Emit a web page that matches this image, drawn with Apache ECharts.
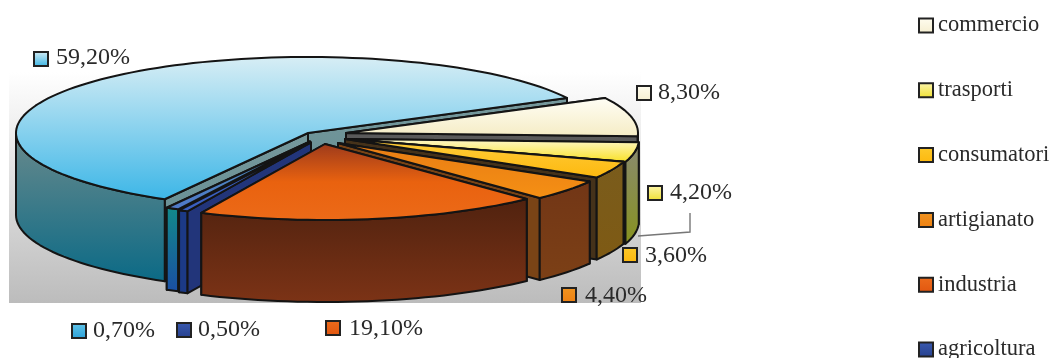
<!DOCTYPE html>
<html>
<head>
<meta charset="utf-8">
<style>html,body{margin:0;padding:0;background:#fff}#c{width:1054px;height:358px}</style>
<script src="https://cdn.jsdelivr.net/npm/echarts@6/dist/echarts.min.js"></script>
</head>
<body>
<div id="c"></div>
<script>
// Shares in clockwise pie order, starting from the commercio slice.
const categories = ['commercio', 'trasporti', 'consumatori', 'artigianato', 'industria', 'agricoltura', '0,70%', '59,20%'];
const shares = [8.3, 4.2, 3.6, 4.4, 19.1, 0.5, 0.7, 59.2];
const legendItems = ['commercio', 'trasporti', 'consumatori', 'artigianato', 'industria', 'agricoltura'];

// Pie projection: flattened ellipse with a fixed rim height.
const pie = { cx: 308, cy: 133, a: 292, b: 76, h: 82, startAngle: 27.5 };
// How far each slice is pulled out of the pie, in pixels.
const pull = [[38, 0], [39, 6], [37, 6], [30, 10], [17, 11], [3, 9.5], [2, 8.5], [0, 0]];
// Back-to-front drawing order.
const paintOrder = [7, 0, 1, 2, 3, 6, 5, 4];

const grad = (...stops) => new echarts.graphic.LinearGradient(0, 0, 0, 1,
  stops.map((c, i) => ({ offset: i / (stops.length - 1), color: c })));

const looks = [
  { top: ['#fffef6', '#f5ecc4'], wall: ['#77776a', '#777760'], cut: ['#5a5a5a', '#5a5a5a'], key: ['#fffdf0', '#f5eed0'] },
  { top: ['#fff9d2', '#f8e020'], wall: ['#8a8a72', '#87921e'], cut: ['#2a2a1a', '#2a2a1a'], key: ['#fdf6b0', '#efe030'] },
  { top: ['#ffce3c', '#fdb80e'], wall: ['#7a5c1c', '#7e5a14'], cut: ['#45321a', '#45321a'], key: ['#fdc828', '#fdb80e'] },
  { top: ['#e87c14', '#f59014'], wall: ['#723616', '#7c4016'], cut: ['#7a4416', '#7a4416'], key: ['#f09420', '#ee8012'] },
  { top: ['#9c3a1c', '#e9620f', '#ec6a18'], wall: ['#50220f', '#7c3316'], cut: ['#50220f', '#7c3316'], key: ['#ec6c1c', '#e2560f'] },
  { top: ['#3a5fc0', '#3a5fc0'], wall: ['#1c3a86', '#1c3a86'], cut: ['#22357a', '#22357a'], key: ['#3a5ab0', '#26408e'] },
  { top: ['#4a90b8', '#5078c8'], wall: ['#128a8a', '#1a4ea4'], cut: ['#14606e', '#14606e'], key: ['#62c4e8', '#2aa0d8'] },
  { top: ['#d8eef5', '#3cb6e7'], wall: ['#6a8a8c', '#0b6a86'], cut: ['#76989c', '#5f8b90'], key: ['#d8eef5', '#38b4e4'] }
];

// Value labels beside the pie: [slice index, key x, key y, text x, text y]
const valueLabels = [
  [7, 41, 59, 56, 58], [6, 79, 331, 93, 331], [5, 184, 330, 198, 330], [4, 333, 328, 349, 329],
  [3, 569, 295, 585, 296], [2, 630, 255, 645, 256], [1, 655, 193, 670, 193], [0, 644, 93, 658, 93]
];

const total = shares.reduce((s, v) => s + v, 0);
const spans = [];
shares.reduce((from, v) => {
  const to = from - v / total * 360;
  spans.push([from, to]);
  return to;
}, pie.startAngle);

function rim(deg, off) {
  const r = deg * Math.PI / 180;
  return [pie.cx + off[0] + pie.a * Math.cos(r), pie.cy + off[1] - pie.b * Math.sin(r)];
}
function arc(from, to, off, drop) {
  const pts = [];
  const n = Math.max(2, Math.ceil(Math.abs(from - to) / 2));
  for (let i = 0; i <= n; i++) {
    const p = rim(from + (to - from) * i / n, off);
    pts.push([p[0], p[1] + drop]);
  }
  return pts;
}
const edge = { stroke: '#141414', lineWidth: 2, lineJoin: 'round' };
const poly = (points, fill) => ({ type: 'polygon', shape: { points }, style: { fill, ...edge } });

function drawSlice(i) {
  return function (params, api) {
    const span = api.value(0) / total * 360;
    const from = spans[i][0], to = from - span;
    const off = pull[i], look = looks[i];
    const apex = [pie.cx + off[0], pie.cy + off[1]];
    const apexLow = [apex[0], apex[1] + pie.h];
    const children = [];
    // Cut faces, nearest one last.
    [from, to].sort((p, q) => Math.sin(q * Math.PI / 180) - Math.sin(p * Math.PI / 180))
      .forEach(d => {
        const c = rim(d, off);
        children.push(poly([apex, c, [c[0], c[1] + pie.h], apexLow], grad(...look.cut)));
      });
    // Outer wall: only the part of the rim that faces the viewer.
    const wf = Math.min(from, 0), wt = Math.max(to, -180);
    if (wf > wt) {
      children.push(poly(arc(wf, wt, off, 0).concat(arc(wt, wf, off, pie.h)), grad(...look.wall)));
    }
    // Top surface.
    children.push(poly([apex].concat(arc(from, to, off, 0)), grad(...look.top)));
    return { type: 'group', children };
  };
}

const series = paintOrder.map(i => ({
  type: 'custom',
  name: categories[i],
  coordinateSystem: 'none',
  z: 2,
  silent: true,
  data: [[shares[i]]],
  renderItem: drawSlice(i)
}));

const serif = '"Liberation Serif", "DejaVu Serif", serif';
const keyBox = { stroke: '#222', lineWidth: 2 };

const graphics = [
  { type: 'rect', z: 0, silent: true, shape: { x: 9, y: 72, width: 632, height: 231 },
    style: { fill: new echarts.graphic.LinearGradient(0, 0, 0, 1, [
      { offset: 0, color: '#ffffff' }, { offset: 1, color: '#bcbcbc' }]) } },
  { type: 'polyline', z: 5, silent: true, shape: { points: [[690, 213], [690, 232], [638, 236]] },
    style: { stroke: '#777', lineWidth: 1.4, fill: null } }
];
valueLabels.forEach(([i, kx, ky, tx, ty]) => {
  graphics.push({ type: 'rect', z: 10, silent: true, shape: { x: kx - 7, y: ky - 7, width: 14, height: 14 },
    style: { fill: grad(...looks[i].key), ...keyBox } });
  graphics.push({ type: 'text', z: 10, silent: true, x: tx, y: ty,
    style: { text: shares[i].toFixed(2).replace('.', ',') + '%', fill: '#2a2a2a', font: '24px ' + serif,
      textAlign: 'left', textVerticalAlign: 'middle' } });
});

const chart = echarts.init(document.getElementById('c'), null, { renderer: 'canvas' });
chart.setOption({
  animation: false,
  backgroundColor: '#ffffff',
  tooltip: { show: false },
  legend: {
    orient: 'vertical', left: 918, top: 14, height: 400, itemWidth: 14, itemHeight: 14, itemGap: 41.8,
    selectedMode: false, padding: 0,
    textStyle: { fontFamily: serif, fontSize: 22.5, color: '#2a2a2a' },
    data: legendItems.map(name => {
      const i = categories.indexOf(name);
      return { name, icon: 'rect',
        itemStyle: { color: grad(...looks[i].key), borderColor: '#222', borderWidth: 2 } };
    })
  },
  graphic: { elements: graphics },
  series
});
</script>
</body>
</html>
